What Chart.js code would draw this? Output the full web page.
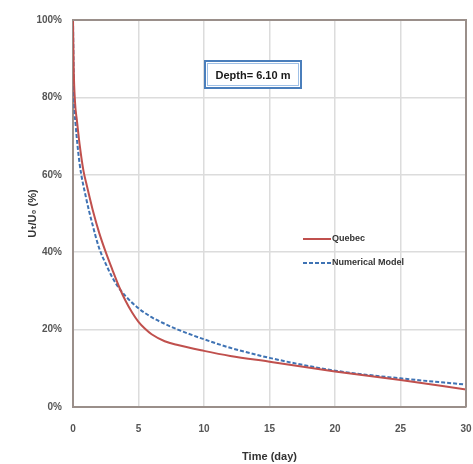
<!DOCTYPE html>
<html>
<head>
<meta charset="utf-8">
<script src="https://cdn.jsdelivr.net/npm/chart.js@4/dist/chart.umd.min.js"></script>
<style>
html,body{margin:0;padding:0;background:#fff;}
#wrap{width:473px;height:464px;position:relative;}
</style>
</head>
<body>
<div id="wrap"><canvas id="c" width="473" height="464"></canvas></div>
<script>
// Time (day)
const timeQuebec = [0, 0.05, 0.15, 0.3, 0.5, 0.8, 1, 1.5, 2, 2.5, 3, 3.5, 4, 4.5, 5, 5.5, 6, 7, 8, 10, 12, 15, 20, 25, 30];
const quebecValues = [100, 88, 79, 74, 68, 61, 58, 51, 45, 40, 35.5, 31.2, 27.5, 24.5, 22, 20.2, 18.8, 17, 16, 14.5, 13.2, 11.7, 9.2, 7, 4.5];
const timeModel = [0, 0.05, 0.1, 0.2, 0.5, 1, 1.5, 2, 2.5, 3, 3.5, 4, 5, 6, 7, 8, 10, 12, 15, 20, 25, 30];
const modelValues = [100, 86, 78, 73, 63, 54, 47, 41, 37, 33.5, 30.8, 28.7, 25.5, 23.2, 21.5, 20, 17.5, 15.3, 12.7, 9.4, 7.4, 5.8];
const seriesNames = ['Quebec', 'Numerical Model'];
const xTicks = [0, 5, 10, 15, 20, 25, 30];
const yTicks = [0, 20, 40, 60, 80, 100];
const annotationText = 'Depth= 6.10 m';
const xTitle = 'Time (day)';
const yTitle = 'U\u209C/U\u2080 (%)';

const toPts = (xs, ys) => xs.map((x, i) => ({x: x, y: ys[i]}));

const overlay = {
  id: 'overlay',
  afterDatasetsDraw(chart) {
    const ctx = chart.ctx;
    ctx.save();
    // annotation box
    const bx = 205, by = 61, bw = 96, bh = 27;
    ctx.fillStyle = '#ffffff';
    ctx.fillRect(bx, by, bw, bh);
    ctx.strokeStyle = '#4a7ebb';
    ctx.lineWidth = 2;
    ctx.strokeRect(bx, by, bw, bh);
    ctx.strokeStyle = '#9fc0e6';
    ctx.lineWidth = 1;
    ctx.strokeRect(bx + 2.5, by + 2.5, bw - 5, bh - 5);
    ctx.fillStyle = '#1a1a1a';
    ctx.font = 'bold 11px "Liberation Sans", Arial, sans-serif';
    ctx.textAlign = 'center';
    ctx.textBaseline = 'middle';
    ctx.fillText(annotationText, bx + bw / 2, by + bh / 2 + 1);
    // legend
    const items = chart.data.datasets;
    const ly = [239, 263];
    items.forEach((ds, i) => {
      ctx.strokeStyle = ds.borderColor;
      ctx.lineWidth = 2;
      ctx.setLineDash(ds.borderDash || []);
      ctx.beginPath();
      ctx.moveTo(303, ly[i]);
      ctx.lineTo(331, ly[i]);
      ctx.stroke();
      ctx.setLineDash([]);
      ctx.fillStyle = '#333';
      ctx.font = 'bold 9px "Liberation Sans", Arial, sans-serif';
      ctx.textAlign = 'left';
      ctx.textBaseline = 'middle';
      ctx.fillText(ds.label, 332, ly[i]);
    });
    ctx.restore();
  }
};

new Chart(document.getElementById('c'), {
  type: 'line',
  data: {
    datasets: [
      {
        label: seriesNames[0],
        data: toPts(timeQuebec, quebecValues),
        borderColor: '#c0504d',
        borderWidth: 2,
        pointRadius: 0,
        cubicInterpolationMode: 'monotone',
        fill: false
      },
      {
        label: seriesNames[1],
        data: toPts(timeModel, modelValues),
        borderColor: '#3f73b4',
        borderWidth: 2,
        borderDash: [4, 2],
        pointRadius: 0,
        cubicInterpolationMode: 'monotone',
        fill: false
      }
    ]
  },
  options: {
    responsive: false,
    animation: false,
    events: [],
    layout: {padding: {left: 0, right: 7, top: 20, bottom: 0}},
    plugins: {legend: {display: false}, tooltip: {enabled: false}},
    scales: {
      x: {
        type: 'linear',
        min: 0, max: 30,
        afterBuildTicks: s => { s.ticks = xTicks.map(v => ({value: v})); },
        afterFit: s => { s.height = 57; s.paddingLeft = 0; s.paddingRight = 0; },
        border: {display: true, color: '#9a8f8a', width: 2},
        grid: {color: '#dcdcdc', lineWidth: 1.5, drawTicks: false},
        ticks: {
          padding: 16,
          color: '#555',
          font: {family: '"Liberation Sans", Arial, sans-serif', size: 10, weight: 'bold'}
        },
        title: {
          display: true, text: xTitle, color: '#333',
          font: {family: '"Liberation Sans", Arial, sans-serif', size: 11, weight: 'bold'},
          padding: {top: 0, bottom: 0}
        }
      },
      y: {
        type: 'linear',
        min: 0, max: 100,
        afterBuildTicks: s => { s.ticks = yTicks.map(v => ({value: v})); },
        afterFit: s => { s.width = 73; s.paddingTop = 0; s.paddingBottom = 0; },
        border: {display: true, color: '#9a8f8a', width: 2},
        grid: {color: '#dcdcdc', lineWidth: 1.5, drawTicks: false},
        ticks: {
          padding: 11,
          color: '#555',
          font: {family: '"Liberation Sans", Arial, sans-serif', size: 10, weight: 'bold'},
          callback: v => v + '%'
        },
        title: {
          display: true, text: yTitle, color: '#333',
          font: {family: '"Liberation Sans", "DejaVu Sans", Arial, sans-serif', size: 11, weight: 'bold'},
          padding: {top: 26, bottom: 0}
        }
      }
    }
  },
  plugins: [overlay, {
    id: 'frame',
    afterDraw(chart) {
      const a = chart.chartArea, ctx = chart.ctx;
      ctx.save();
      ctx.strokeStyle = '#9a8f8a';
      ctx.lineWidth = 2;
      ctx.beginPath();
      ctx.moveTo(a.left, a.top);
      ctx.lineTo(a.right, a.top);
      ctx.lineTo(a.right, a.bottom);
      ctx.stroke();
      ctx.restore();
    }
  }]
});
</script>
</body>
</html>
